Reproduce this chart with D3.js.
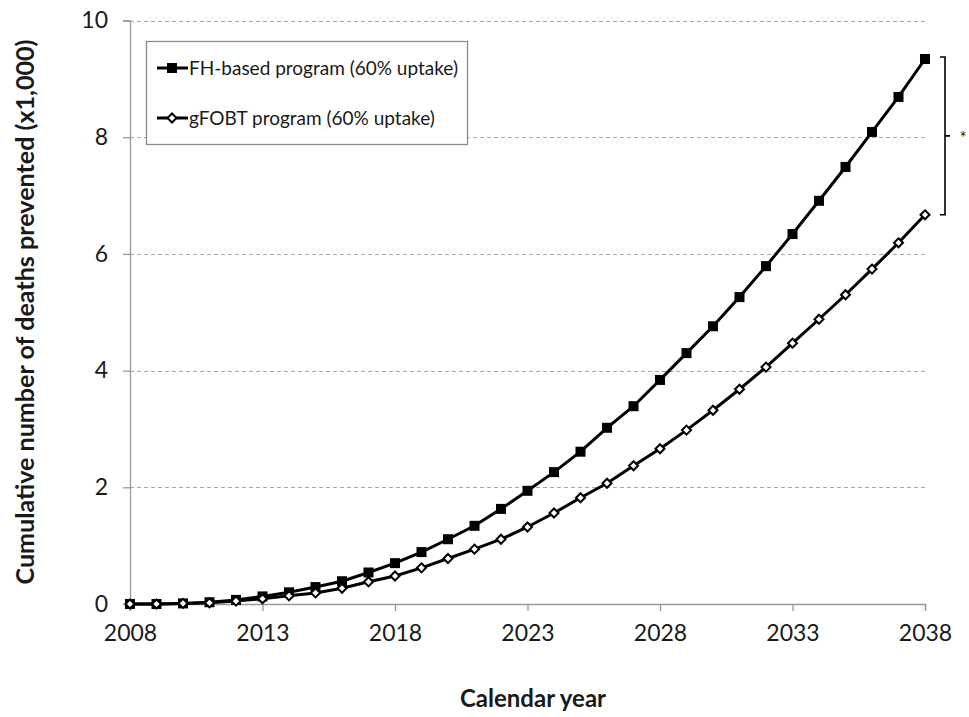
<!DOCTYPE html>
<html>
<head>
<meta charset="utf-8">
<script src="https://cdn.jsdelivr.net/npm/d3@7/dist/d3.min.js"></script>
<style>
  html, body { margin: 0; padding: 0; background: #fff; }
  svg { display: block; font-family: Lato, "Open Sans", sans-serif; }
</style>
</head>
<body>
<svg id="chart" width="969" height="717"></svg>
<script>
// Calendar years on the x axis
const years = d3.range(2008, 2039);

// Cumulative deaths prevented (x1,000) per year
const fhValues = [0, 0, 0.01, 0.03, 0.07, 0.13, 0.20, 0.29, 0.39, 0.54, 0.70,
  0.89, 1.11, 1.34, 1.63, 1.94, 2.26, 2.61, 3.02, 3.39, 3.84,
  4.30, 4.76, 5.26, 5.79, 6.34, 6.91, 7.49, 8.09, 8.69, 9.34];
const gfobtValues = [0, 0, 0.01, 0.02, 0.05, 0.09, 0.14, 0.19, 0.27, 0.38, 0.48,
  0.62, 0.78, 0.94, 1.11, 1.32, 1.56, 1.82, 2.07, 2.37, 2.66,
  2.98, 3.32, 3.68, 4.06, 4.47, 4.88, 5.30, 5.74, 6.19, 6.67];

const seriesNames = ["FH-based program (60% uptake)", "gFOBT program (60% uptake)"];
const xTicks = [2008, 2013, 2018, 2023, 2028, 2033, 2038];
const yTicks = [0, 2, 4, 6, 8, 10];

const svg = d3.select("#chart");
const x = d3.scaleLinear().domain([2008, 2038]).range([130, 925]);
const y = d3.scaleLinear().domain([0, 10]).range([604, 20.5]);

// Dashed horizontal gridlines
svg.append("g").selectAll("line")
  .data(yTicks.filter(t => t > 0))
  .join("line")
  .attr("x1", x(2008)).attr("x2", x(2038) + 1)
  .attr("y1", d => Math.round(y(d)) + 0.5).attr("y2", d => Math.round(y(d)) + 0.5)
  .attr("stroke", "#a6a6a6").attr("stroke-width", 1.2)
  .attr("stroke-dasharray", "4,3");

// Y axis
const yAxis = svg.append("g")
  .attr("transform", `translate(${x(2008)},0)`)
  .call(d3.axisLeft(y).tickValues(yTicks).tickSize(7).tickPadding(15).tickFormat(d3.format("d")));
yAxis.select(".domain").attr("stroke", "#9a9a9a").attr("stroke-width", 1.3);
yAxis.selectAll(".tick line").attr("stroke", "#9a9a9a").attr("stroke-width", 1.3);
yAxis.selectAll(".tick text").attr("font-size", 23).attr("fill", "#1a1a1a")
  .attr("font-family", "Lato, 'Open Sans', sans-serif");

// X axis
const xAxis = svg.append("g")
  .attr("transform", `translate(0,${y(0)})`)
  .call(d3.axisBottom(x).tickValues(xTicks).tickSize(7).tickPadding(14).tickFormat(d3.format("d")));
xAxis.select(".domain").attr("stroke", "#9a9a9a").attr("stroke-width", 1.3);
xAxis.selectAll(".tick line").attr("stroke", "#9a9a9a").attr("stroke-width", 1.3);
xAxis.selectAll(".tick text").attr("font-size", 23).attr("fill", "#1a1a1a")
  .attr("font-family", "Lato, 'Open Sans', sans-serif");

// Axis titles
svg.append("text")
  .attr("x", 533).attr("y", 707)
  .attr("text-anchor", "middle")
  .attr("font-size", 24).attr("font-weight", "bold").attr("fill", "#1a1a1a")
  .text("Calendar year");
svg.append("text")
  .attr("transform", "translate(34,312) rotate(-90)")
  .attr("text-anchor", "middle")
  .attr("font-size", 24).attr("font-weight", "bold").attr("fill", "#1a1a1a")
  .attr("textLength", 545).attr("lengthAdjust", "spacingAndGlyphs")
  .text("Cumulative number of deaths prevented (x1,000)");

const line = d3.line().x((d, i) => x(years[i])).y(d => y(d));
const diamond = d3.symbol().type(d3.symbolDiamond2).size(52);

// FH-based series: line with filled squares
svg.append("path").datum(fhValues)
  .attr("d", line).attr("fill", "none").attr("stroke", "#000").attr("stroke-width", 3);
svg.append("g").selectAll("rect")
  .data(fhValues)
  .join("rect")
  .attr("x", (d, i) => x(years[i]) - 5).attr("y", d => y(d) - 5)
  .attr("width", 10).attr("height", 10)
  .attr("fill", "#000");

// gFOBT series: line with open diamonds, drawn on top
svg.append("path").datum(gfobtValues)
  .attr("d", line).attr("fill", "none").attr("stroke", "#000").attr("stroke-width", 3);
svg.append("g").selectAll("path")
  .data(gfobtValues)
  .join("path")
  .attr("d", diamond)
  .attr("transform", (d, i) => `translate(${x(years[i])},${y(d)})`)
  .attr("fill", "#fff").attr("stroke", "#000").attr("stroke-width", 2);

// Legend
const legend = svg.append("g");
legend.append("rect")
  .attr("x", 146.5).attr("y", 41.5).attr("width", 321).attr("height", 103)
  .attr("fill", "#fff").attr("stroke", "#8c8c8c").attr("stroke-width", 1.3);
const rowsY = [68, 118];
rowsY.forEach((ry, k) => {
  legend.append("line")
    .attr("x1", 157).attr("x2", 188).attr("y1", ry).attr("y2", ry)
    .attr("stroke", "#000").attr("stroke-width", 3);
  if (k === 0) {
    legend.append("rect").attr("x", 167).attr("y", ry - 5).attr("width", 10).attr("height", 10).attr("fill", "#000");
  } else {
    legend.append("path").attr("d", diamond)
      .attr("transform", `translate(172,${ry})`)
      .attr("fill", "#fff").attr("stroke", "#000").attr("stroke-width", 2);
  }
  legend.append("text")
    .attr("x", 189).attr("y", ry + 6.5)
    .attr("font-size", 19).attr("fill", "#1a1a1a")
    .text(seriesNames[k]);
});

// Bracket between the 2038 values with significance marker
const bx = 945;
const yTop = y(fhValues[fhValues.length - 1]) - 2;
const yBot = y(gfobtValues[gfobtValues.length - 1]);
const yMid = (yTop + yBot) / 2;
svg.append("path")
  .attr("d", `M${bx - 5},${yTop} H${bx} V${yBot} H${bx - 5} M${bx},${yMid} H${bx + 5}`)
  .attr("fill", "none").attr("stroke", "#000").attr("stroke-width", 1.6);
svg.append("text")
  .attr("x", 963).attr("y", yMid + 8)
  .attr("text-anchor", "middle")
  .attr("font-size", 17).attr("fill", "#222")
  .text("*");
</script>
</body>
</html>
